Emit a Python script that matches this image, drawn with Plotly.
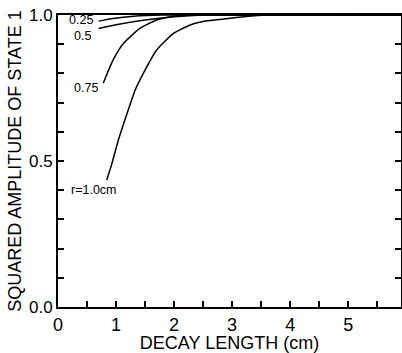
import plotly.graph_objects as go

# Curve data (decay length in cm, squared amplitude)
x_r025 = [0.70, 0.95, 1.30, 1.80, 2.5, 5.95]
y_r025 = [0.979, 0.988, 0.996, 1.0, 1.0, 1.0]

x_r050 = [0.70, 1.00, 1.50, 2.00, 2.50, 5.95]
y_r050 = [0.954, 0.967, 0.983, 0.994, 1.0, 1.0]

x_r075 = [0.78, 0.95, 1.13, 1.41, 1.70, 2.05, 2.50, 5.95]
y_r075 = [0.766, 0.846, 0.903, 0.954, 0.983, 0.998, 1.0, 1.0]

x_r100 = [0.84, 0.93, 1.04, 1.21, 1.33, 1.47, 1.70, 1.99, 2.28, 2.56, 2.79, 3.20, 3.60, 5.95]
y_r100 = [0.435, 0.492, 0.572, 0.675, 0.743, 0.800, 0.880, 0.937, 0.966, 0.980, 0.985, 0.994, 1.0, 1.0]

curve_labels = ["0.25", "0.5", "0.75", "r=1.0cm"]
label_x = [0.40, 0.42, 0.48, 0.62]
label_y = [0.984, 0.928, 0.751, 0.400]

x_ticks = [0, 1, 2, 3, 4, 5]
y_ticks = [0.0, 0.5, 1.0]
y_ticklabels = ["0.0", "0.5", "1.0"]

FONT = "Liberation Sans, Arial, sans-serif"

fig = go.Figure()
for xs, ys in [(x_r025, y_r025), (x_r050, y_r050), (x_r075, y_r075), (x_r100, y_r100)]:
    fig.add_trace(go.Scatter(x=xs, y=ys, mode="lines",
                             line=dict(color="black", width=1.5, shape="spline", smoothing=0.5),
                             showlegend=False, hoverinfo="skip"))
# invisible trace for right-side mirrored axis
fig.add_trace(go.Scatter(x=[0], y=[0], yaxis="y2", mode="markers", marker=dict(opacity=0),
                         showlegend=False, hoverinfo="skip"))

for t, lx, ly in zip(curve_labels, label_x, label_y):
    fig.add_annotation(x=lx, y=ly, text=t, showarrow=False, xanchor="center", yanchor="middle",
                       borderpad=0, font=dict(family=FONT, size=12.5, color="black"))

fig.update_layout(
    width=402, height=353,
    margin=dict(l=58, r=1, t=15, b=46),
    paper_bgcolor="white", plot_bgcolor="white",
    font=dict(family=FONT, color="black"),
    xaxis=dict(range=[0, 5.91], tickvals=x_ticks, ticks="inside", ticklen=6, tickwidth=1.5, tickcolor="black",
               showline=True, linecolor="black", linewidth=2, mirror=True, showgrid=False, zeroline=False,
               minor=dict(dtick=0.5, tick0=0, ticks="inside", ticklen=6, tickwidth=1.5, tickcolor="black",
                          showgrid=False),
               tickfont=dict(size=18, family=FONT),
               title=dict(text="DECAY LENGTH (cm)", font=dict(size=18, family=FONT), standoff=2)),
    yaxis=dict(range=[0, 1.0], tickvals=y_ticks, ticktext=y_ticklabels, ticks="inside", ticklen=6, tickwidth=1.5,
               tickcolor="black", showline=True, linecolor="black", linewidth=2, showgrid=False, zeroline=False,
               minor=dict(dtick=0.1, tick0=0, ticks="inside", ticklen=6, tickwidth=1.5, tickcolor="black",
                          showgrid=False),
               tickfont=dict(size=17, family=FONT),
               title=dict(text="SQUARED AMPLITUDE OF STATE 1", font=dict(size=18, family=FONT), standoff=3)),
    yaxis2=dict(range=[0, 1.0], overlaying="y", side="right", showticklabels=False, ticks="inside", ticklen=6,
                tickwidth=1.5, tickcolor="black", tickvals=y_ticks, showline=True, linecolor="black", linewidth=2,
                showgrid=False, zeroline=False,
                minor=dict(dtick=0.1, tick0=0, ticks="inside", ticklen=6, tickwidth=1.5, tickcolor="black",
                           showgrid=False)),
)

fig.write_html("out.html")
